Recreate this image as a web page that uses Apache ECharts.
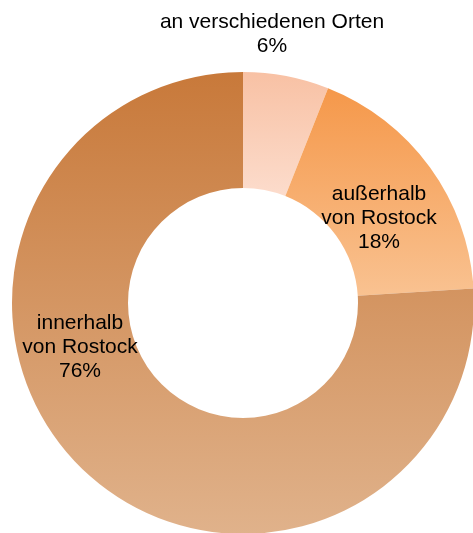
<!DOCTYPE html>
<html>
<head>
<meta charset="utf-8">
<script src="https://cdn.jsdelivr.net/npm/echarts@6/dist/echarts.min.js"></script>
<style>
  html, body { margin: 0; padding: 0; background: #ffffff; }
  #chart { width: 473px; height: 533px; }
</style>
</head>
<body>
<div id="chart"></div>
<script>
// Wohnort der Befragten – Anteile in Prozent
const categories = ['an verschiedenen Orten', 'außerhalb\nvon Rostock', 'innerhalb\nvon Rostock'];
const shares = [6, 18, 76];

// vertical gradient per slice: [top, bottom]
const sliceColors = [
  ['#F8C1A4', '#FCDCCC'],
  ['#F5984A', '#F9C291'],
  ['#C8793A', '#E0B28B']
];

// label anchor of each slice (block centre, px)
const labelAnchors = [
  [272, 34],
  [379, 218],
  [80, 347]
];

const chart = echarts.init(document.getElementById('chart'), null, { renderer: 'canvas' });

const data = categories.map((name, i) => ({
  name: name,
  value: shares[i],
  itemStyle: {
    color: new echarts.graphic.LinearGradient(0, 0, 0, 1, [
      { offset: 0, color: sliceColors[i][0] },
      { offset: 1, color: sliceColors[i][1] }
    ])
  }
}));

chart.setOption({
  animation: false,
  backgroundColor: '#ffffff',
  series: [{
    type: 'pie',
    center: [243, 303],
    radius: [115, 231],
    startAngle: 90,
    clockwise: true,
    avoidLabelOverlap: false,
    silent: true,
    itemStyle: { borderWidth: 0 },
    label: {
      show: true,
      position: 'inside',
      formatter: p => p.name + '\n' + p.value + '%',
      fontFamily: 'Liberation Sans, Arial, sans-serif',
      fontSize: 21,
      lineHeight: 24,
      color: '#000000',
      align: 'center'
    },
    labelLine: { show: false },
    labelLayout: function (params) {
      const a = labelAnchors[params.dataIndex];
      return { x: a[0], y: a[1], align: 'center', verticalAlign: 'middle' };
    },
    data: data
  }]
});
</script>
</body>
</html>
